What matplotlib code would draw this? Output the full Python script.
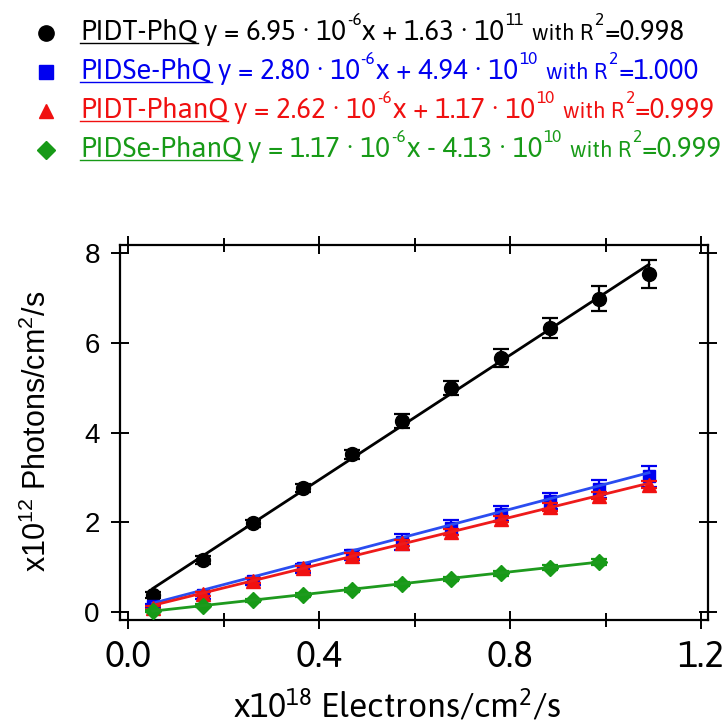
import matplotlib

matplotlib.use("Agg")
import matplotlib.pyplot as plt
import numpy as np
from matplotlib import font_manager

W, H = 728, 727

installed = {f.name for f in font_manager.fontManager.ttflist}
# Myriad-like humanist sans for the legend and x axis, Helvetica-like for y axis
for cand in ["Asap", "PT Sans", "Cabin", "Fira Sans", "Source Sans Pro", "Asap Condensed"]:
    if cand in installed:
        NARROW = [cand, "DejaVu Sans"]
        break
REGULAR = ["Liberation Sans", "DejaVu Sans"]

# ---- data (x10^18 electrons/cm^2/s  ->  x10^12 photons/cm^2/s) ----
x_electrons = [0.052, 0.157, 0.262, 0.366, 0.469, 0.574, 0.677, 0.781, 0.884, 0.986, 1.091]

y_pidt_phq = [0.38, 1.16, 1.98, 2.76, 3.52, 4.26, 4.99, 5.66, 6.33, 6.98, 7.54]
err_pidt_phq = [0.07, 0.08, 0.08, 0.09, 0.10, 0.15, 0.16, 0.19, 0.23, 0.28, 0.31]

y_pidse_phq = [0.13, 0.37, 0.68, 0.98, 1.27, 1.56, 1.88, 2.19, 2.47, 2.75, 3.02]
err_pidse_phq = [0.05, 0.07, 0.08, 0.10, 0.11, 0.17, 0.16, 0.17, 0.18, 0.20, 0.24]

y_pidt_phanq = [0.10, 0.40, 0.70, 0.97, 1.25, 1.54, 1.78, 2.07, 2.34, 2.59, 2.84]
err_pidt_phanq = [0.04, 0.04, 0.05, 0.05, 0.06, 0.06, 0.07, 0.07, 0.08, 0.08, 0.08]

y_pidse_phanq = [0.02, 0.14, 0.26, 0.38, 0.49, 0.63, 0.74, 0.86, 0.99, 1.11]
err_pidse_phanq = [0.03, 0.03, 0.03, 0.04, 0.04, 0.04, 0.05, 0.05, 0.05, 0.06]

# fit results from the legend (slope in 1e-6, intercept in 1e10)
names = ["PIDT-PhQ", "PIDSe-PhQ", "PIDT-PhanQ", "PIDSe-PhanQ"]
slopes = [6.95, 2.80, 2.62, 1.17]
intercepts = [16.3, 4.94, 1.17, -4.13]
intercept_txt = ["+ 1.63", "+ 4.94", "+ 1.17", "- 4.13"]
intercept_exp = ["11", "10", "10", "10"]
r_squared = ["0.998", "1.000", "0.999", "0.999"]

COLORS = ["#000000", "#0000F0", "#F01010", "#179A17"]
LINE_COLORS = ["#000000", "#2A4CF0", "#EE1A1A", "#1E9A1E"]
MARKERS = ["o", "s", "^", "D"]
MSIZES = [10, 8.5, 9.5, 8.5]

series = [
    (x_electrons, y_pidt_phq, err_pidt_phq),
    (x_electrons, y_pidse_phq, err_pidse_phq),
    (x_electrons, y_pidt_phanq, err_pidt_phanq),
    (x_electrons[: len(y_pidse_phanq)], y_pidse_phanq, err_pidse_phanq),
]

fig = plt.figure(figsize=(W / 100, H / 100), dpi=100)
renderer = fig.canvas.get_renderer()


def fit_size(txt, family, target_px, base=20):
    # font size that makes txt target_px wide
    t = fig.text(0, 0, txt, fontsize=base, family=family)
    w = t.get_window_extent(renderer).width
    t.remove()
    return base * target_px / w


ax = fig.add_axes([120 / W, (H - 620) / H, (708 - 120) / W, (620 - 245) / H])

for i, (xs, ys, es) in enumerate(series):
    xs = np.array(xs)
    ax.errorbar(
        xs, ys, yerr=es, fmt="none", ecolor=COLORS[i], elinewidth=1.6,
        capsize=5.5, capthick=1.6, zorder=2 + i,
    )
    ax.plot(
        xs, ys, linestyle="none", marker=MARKERS[i], markersize=MSIZES[i],
        color=COLORS[i], zorder=2 + i,
    )
    # fitted line y = slope*1e-6 * x + intercept (rescaled to plot units)
    xf = np.array([xs[0], xs[-1]])
    yf = slopes[i] * xf + intercepts[i] / 100
    ax.plot(xf, yf, color=LINE_COLORS[i], lw=2.0, zorder=2.5 + i)

ax.set_xlim(-8 / 477.5, 1.2 + 7 / 477.5)
ax.set_ylim(-8 / 44.875, 8 + 8 / 44.875)
ax.set_xticks([0.0, 0.4, 0.8, 1.2])
ax.set_xticks([0.2, 0.6, 1.0], minor=True)
ax.set_yticks([0, 2, 4, 6, 8])
xtick_size = fit_size("0.0", NARROW, 47)
ax.set_xticklabels(["0.0", "0.4", "0.8", "1.2"], family=NARROW, fontsize=xtick_size)
ax.set_yticklabels(["0", "2", "4", "6", "8"], family=REGULAR, fontsize=20)
ax.tick_params(which="both", direction="inout", top=True, right=True,
               width=1.4, color="black")
ax.tick_params(which="major", length=13)
ax.tick_params(which="minor", length=10)
ax.tick_params(axis="x", pad=7)
ax.tick_params(axis="y", pad=8)
for sp in ax.spines.values():
    sp.set_linewidth(1.6)

fig.text(37 / W, 1 - 431 / H, r"x10$\mathregular{^{12}}$ Photons/cm$\mathregular{^2}$/s",
         rotation=90, ha="center", va="center", family=REGULAR, fontsize=22)
xlab = r"x10$\mathregular{^{18}}$ Electrons/cm$\mathregular{^2}$/s"
fig.text(397 / W, 1 - 717 / H, xlab, ha="center", va="baseline", family=NARROW,
         fontsize=fit_size(xlab, NARROW, 329))

# ---- legend drawn as text pieces in pixel space ----
leg = fig.add_axes([0, 0, 1, 1])
leg.set_xlim(0, W)
leg.set_ylim(H, 0)
leg.axis("off")


def put(x, y, txt, size, color, underline=False):
    t = leg.text(x, y, txt, fontsize=size, color=color, family=NARROW,
                 ha="left", va="baseline")
    bb = t.get_window_extent(renderer)
    x1 = leg.transData.inverted().transform((bb.x1, bb.y0))[0]
    if underline:
        leg.plot([x, x1], [y + 3, y + 3], color=color, lw=1.0)
    return x1


row_base = [40, 79, 118, 157]
X0 = 80


def draw_legend(s_main):
    s_sup = 0.62 * s_main
    s_with = 0.8 * s_main
    rise = 0.55 * s_main * 100 / 72
    gap = 0.3 * s_main
    ends = []
    for i in range(4):
        yb = row_base[i]
        c = COLORS[i]
        x = put(X0, yb, names[i], s_main, c, underline=True)
        x = put(x + gap, yb, f"y = {slopes[i]:.2f} \u00b7 10", s_main, c)
        x = put(x + 1, yb - rise, "-6", s_sup, c)
        x = put(x + 1, yb, f"x {intercept_txt[i]} \u00b7 10", s_main, c)
        x = put(x + 1, yb - rise, intercept_exp[i], s_sup, c)
        x = put(x + gap * 1.4, yb, "with R", s_with, c)
        x = put(x + 1, yb - rise, "2", s_sup, c)
        x = put(x + 1, yb, "=" + r_squared[i], s_main, c)
        ends.append(x)
    return ends


# first pass to measure, then redraw so the longest row ends near the edge
s0 = 18
end0 = max(draw_legend(s0))
for artist in list(leg.texts) + list(leg.lines):
    artist.remove()
draw_legend(s0 * (722 - X0) / (end0 - X0))

for i in range(4):
    leg.plot(46, row_base[i] - 7, marker=MARKERS[i], markersize=MSIZES[i] + 1,
             color=COLORS[i])

fig.savefig("out.png", dpi=100)
